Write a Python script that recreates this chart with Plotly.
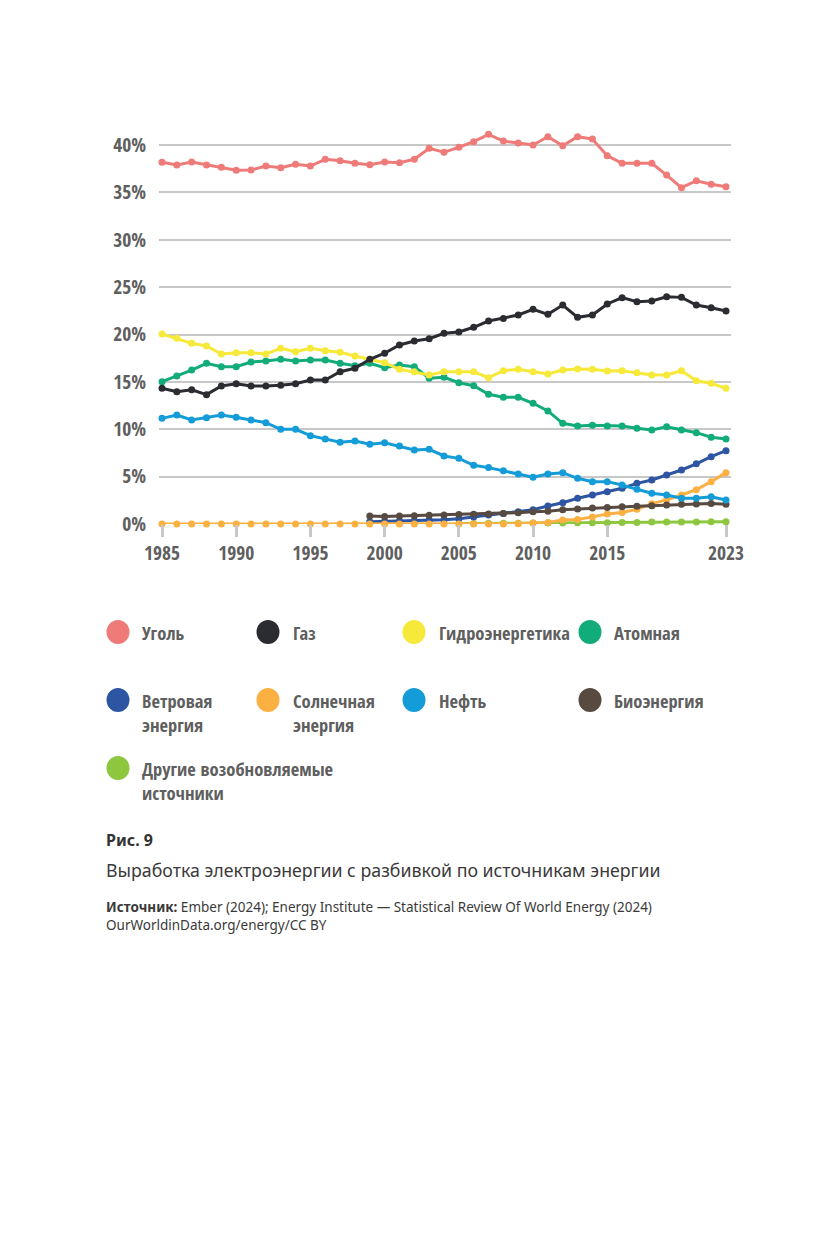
import plotly.graph_objects as go

# ---------------- data ----------------
years = list(range(1985, 2024))
years_from_1999 = list(range(1999, 2024))
years_from_2005 = list(range(2005, 2024))

coal = [38.17, 37.89, 38.21, 37.89, 37.65, 37.33, 37.36, 37.78, 37.60, 37.96,
        37.78, 38.49, 38.34, 38.07, 37.92, 38.21, 38.13, 38.49, 39.65, 39.23,
        39.76, 40.35, 41.13, 40.42, 40.21, 40.00, 40.88, 39.93, 40.88, 40.63,
        38.87, 38.07, 38.07, 38.07, 36.83, 35.49, 36.23, 35.85, 35.60]
gas = [14.32, 13.96, 14.17, 13.65, 14.56, 14.81, 14.56, 14.56, 14.64, 14.81,
       15.20, 15.20, 16.07, 16.43, 17.38, 18.02, 18.89, 19.31, 19.55, 20.13,
       20.26, 20.76, 21.42, 21.70, 22.06, 22.66, 22.13, 23.11, 21.81, 22.06,
       23.22, 23.89, 23.46, 23.54, 23.99, 23.92, 23.11, 22.83, 22.48]
hydro = [20.05, 19.60, 19.07, 18.79, 17.94, 18.08, 18.08, 17.94, 18.54, 18.18,
         18.54, 18.29, 18.12, 17.73, 17.38, 17.02, 16.33, 16.07, 15.73, 16.07,
         16.07, 16.07, 15.44, 16.18, 16.33, 16.07, 15.83, 16.25, 16.36, 16.33,
         16.15, 16.18, 15.97, 15.73, 15.73, 16.18, 15.12, 14.85, 14.32]
nuclear = [15.02, 15.62, 16.25, 16.96, 16.60, 16.60, 17.10, 17.20, 17.38, 17.20,
           17.31, 17.31, 16.96, 16.71, 16.96, 16.50, 16.78, 16.60, 15.38, 15.48,
           14.91, 14.60, 13.69, 13.37, 13.37, 12.74, 11.93, 10.63, 10.34, 10.41,
           10.34, 10.34, 10.10, 9.92, 10.27, 9.92, 9.64, 9.15, 8.97]
oil = [11.15, 11.50, 10.98, 11.22, 11.50, 11.26, 10.98, 10.69, 9.99, 9.99,
       9.32, 8.97, 8.62, 8.76, 8.41, 8.58, 8.23, 7.81, 7.88, 7.18,
       6.93, 6.20, 5.95, 5.63, 5.28, 4.93, 5.28, 5.42, 4.82, 4.47,
       4.47, 4.12, 3.66, 3.24, 3.06, 2.71, 2.71, 2.88, 2.53]
solar = [0, 0, 0, 0, 0, 0, 0, 0, 0, 0,
         0, 0, 0, 0, 0, 0, 0, 0, 0, 0,
         0, 0, 0, 0, 0.03, 0.10, 0.15, 0.42, 0.47, 0.75,
         1.06, 1.22, 1.55, 2.15, 2.55, 3.06, 3.62, 4.47, 5.42]
wind = [0.25, 0.28, 0.32, 0.35, 0.42, 0.45, 0.55, 0.75, 0.95, 1.10,
        1.30, 1.50, 1.90, 2.25, 2.71, 3.06, 3.41, 3.77, 4.29, 4.64,
        5.17, 5.70, 6.35, 7.10, 7.74]
bio = [0.84, 0.80, 0.84, 0.88, 0.92, 0.95, 1.00, 1.03, 1.06, 1.10,
       1.20, 1.30, 1.35, 1.50, 1.58, 1.68, 1.75, 1.82, 1.88, 1.92,
       2.00, 2.08, 2.11, 2.16, 2.08]
other = [0.05, 0.06, 0.07, 0.08, 0.09, 0.10, 0.10, 0.10, 0.12, 0.13,
         0.14, 0.15, 0.16, 0.20, 0.20, 0.22, 0.22, 0.25, 0.25]

y_tickvals = [0, 5, 10, 15, 20, 25, 30, 35, 40]
y_ticktext = ["0%", "5%", "10%", "15%", "20%", "25%", "30%", "35%", "40%"]
x_tickvals = [1985, 1990, 1995, 2000, 2005, 2010, 2015, 2023]
x_ticktext = ["1985", "1990", "1995", "2000", "2005", "2010", "2015", "2023"]

legend_labels = ["Уголь", "Газ", "Гидроэнергетика", "Атомная",
                 "Ветровая<br>энергия", "Солнечная<br>энергия", "Нефть", "Биоэнергия",
                 "Другие возобновляемые<br>источники"]

fig_label = "Рис. 9"
fig_title = "Выработка электроэнергии с разбивкой по источникам энергии"
source_line1 = "<b>Источник:</b> Ember (2024); Energy Institute — Statistical Review Of World Energy (2024)"
source_line2 = "OurWorldinData.org/energy/CC BY"

# ---------------- styles ----------------
C_COAL = "#ef7b79"
C_GAS = "#2b2c31"
C_HYDRO = "#f6e93a"
C_NUC = "#12ac7b"
C_WIND = "#2e55a2"
C_SOLAR = "#fbb042"
C_OIL = "#149cd8"
C_BIO = "#574a41"
C_OTHER = "#8dc63f"
legend_colors = [C_COAL, C_GAS, C_HYDRO, C_NUC, C_WIND, C_SOLAR, C_OIL, C_BIO, C_OTHER]

COND = "Open Sans Condensed, Roboto Condensed, sans-serif"
CAP = "Noto Sans, Open Sans, sans-serif"
GREY = "#5f5f5f"

OFF = 8  # page body margin
W, H = 833 - OFF, 1240 - OFF
# plot area in reference pixels
RL, RR, RT, RB = 159, 731, 130, 524
L, R, T, B = RL - OFF, RR - OFF, RT - OFF, RB - OFF


def px(x):
    return (x - RL) / (RR - RL)


def py(y):
    return (RB - y) / (RB - RT)


fig = go.Figure()

series = [
    (years_from_2005, other, C_OTHER),
    (years_from_1999, wind, C_WIND),
    (years, solar, C_SOLAR),
    (years_from_1999, bio, C_BIO),
    (years, oil, C_OIL),
    (years, nuclear, C_NUC),
    (years, hydro, C_HYDRO),
    (years, gas, C_GAS),
    (years, coal, C_COAL),
]
for xs, ys, col in series:
    fig.add_trace(go.Scatter(
        x=xs, y=ys, mode="lines+markers",
        line=dict(color=col, width=3),
        marker=dict(color=col, size=7),
        cliponaxis=False, showlegend=False, hoverinfo="skip"))

# ---------------- manual legend ----------------
col_x = [118, 268, 414, 590]
text_x = [140, 291, 437, 612]
row_y = [632, 700, 768]
shapes = []
annotations = []
for i, (lab, col) in enumerate(zip(legend_labels, legend_colors)):
    r, c = divmod(i, 4)
    shapes.append(dict(type="circle", xref="paper", yref="paper",
                       xsizemode="pixel", ysizemode="pixel",
                       xanchor=px(col_x[c]), yanchor=py(row_y[r]),
                       x0=-11.5, x1=11.5, y0=-12, y1=12,
                       fillcolor=col, line=dict(width=0)))
    annotations.append(dict(xref="paper", yref="paper", x=px(text_x[c]), y=py(row_y[r] - 14),
                            xanchor="left", yanchor="top", align="left", showarrow=False,
                            text=lab, font=dict(family=COND, size=18.5, color=GREY, weight=600)))

# ---------------- captions ----------------
annotations.append(dict(xref="paper", yref="paper", x=px(104), y=py(840), xanchor="left",
                        yanchor="middle", showarrow=False, text="<b>" + fig_label + "</b>",
                        font=dict(family=CAP, size=16, color="#333333")))
annotations.append(dict(xref="paper", yref="paper", x=px(104), y=py(870), xanchor="left",
                        yanchor="middle", showarrow=False, text=fig_title,
                        font=dict(family=CAP, size=17.75, color="#3a3a3a")))
annotations.append(dict(xref="paper", yref="paper", x=px(104), y=py(916), xanchor="left",
                        yanchor="middle", showarrow=False, align="left",
                        text=source_line1 + "<br>" + source_line2,
                        font=dict(family=CAP, size=13.5, color="#3a3a3a")))

fig.update_layout(
    width=W, height=H,
    margin=dict(l=L, r=W - R, t=T, b=H - B, pad=0),
    paper_bgcolor="white", plot_bgcolor="white",
    shapes=shapes, annotations=annotations,
    showlegend=False,
    xaxis=dict(range=[1985 - (162 - RL) / 14.85, 2023 + (RR - 726) / 14.85],
               tickvals=x_tickvals, ticktext=x_ticktext,
               showgrid=False, zeroline=False,
               showline=False,
               ticks="outside", ticklen=12, tickwidth=3, tickcolor="#c8c8c8",
               tickfont=dict(family=COND, size=19.5, color=GREY, weight=600)),
    yaxis=dict(range=[0, 40 + (145 - RT) / 9.475],
               tickvals=y_tickvals, ticktext=y_ticktext,
               showgrid=True, gridcolor="#c8c8c8", gridwidth=2,
               zeroline=False, showline=False, ticks="",
               ticklabelstandoff=12,
               tickfont=dict(family=COND, size=19.5, color=GREY, weight=600)),
)

fig.write_html("out.html")
